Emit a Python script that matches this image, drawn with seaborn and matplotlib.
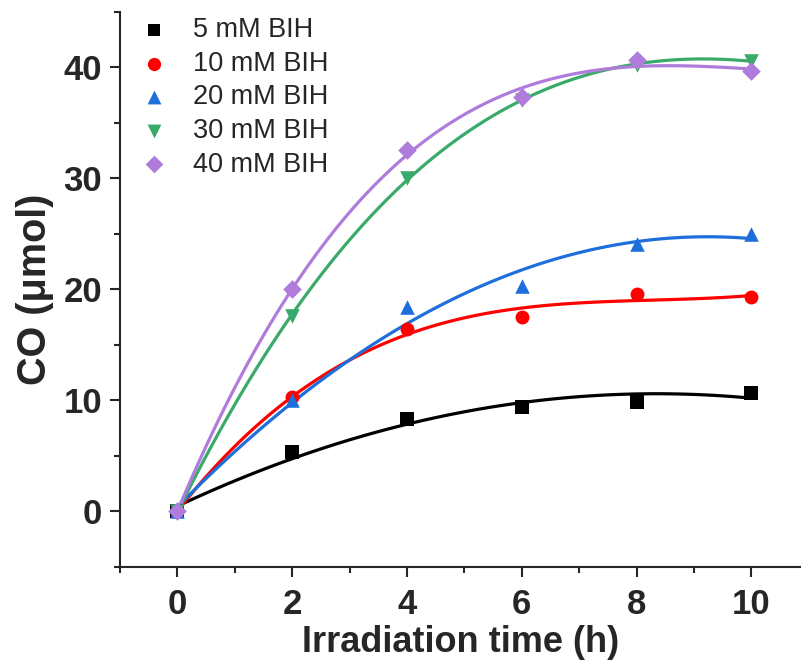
import matplotlib
matplotlib.use("Agg")
import matplotlib.pyplot as plt
from matplotlib.ticker import MultipleLocator
import seaborn as sns
import pandas as pd

# CO evolution vs irradiation time for different BIH concentrations
time_h = [0, 2, 4, 6, 8, 10]
co_5mM = [0.0, 5.4, 8.3, 9.4, 9.9, 10.7]
co_10mM = [0.0, 10.3, 16.4, 17.5, 19.6, 19.3]
co_20mM = [0.0, 10.0, 18.4, 20.3, 24.1, 25.0]
co_30mM = [0.0, 17.6, 30.0, 37.1, 40.2, 40.6]
co_40mM = [0.0, 20.0, 32.6, 37.3, 40.7, 39.7]

labels = ["5 mM BIH", "10 mM BIH", "20 mM BIH", "30 mM BIH", "40 mM BIH"]
series = [co_5mM, co_10mM, co_20mM, co_30mM, co_40mM]
fit_order = [2, 3, 2, 3, 3]
colors = ["#000000", "#ff0000", "#1e6fdb", "#3aaa6a", "#b07cdc"]
markers = ["s", "o", "^", "v", "D"]
sizes = [90, 100, 110, 110, 90]

sns.set_style("ticks")
plt.rcParams["font.family"] = ["Liberation Sans", "DejaVu Sans"]

fig = plt.figure(figsize=(8.01, 6.65), dpi=100)
ax = fig.add_axes([0.1498, 0.1474, 0.850, 0.8346])

for lab, vals, k, c, m, s in zip(labels, series, fit_order, colors, markers, sizes):
    df = pd.DataFrame({"t": time_h, "co": vals})
    sns.regplot(data=df, x="t", y="co", order=k, ci=None, ax=ax, label=lab,
                color=c, marker=m, truncate=True,
                scatter_kws={"s": s, "alpha": 1, "linewidths": 0, "zorder": 3},
                line_kws={"lw": 2.3, "zorder": 2})

ax.set_xlim(-1, 10.86)
ax.set_ylim(-5, 45)
ax.xaxis.set_major_locator(MultipleLocator(2))
ax.xaxis.set_minor_locator(MultipleLocator(1))
ax.yaxis.set_major_locator(MultipleLocator(10))
ax.yaxis.set_minor_locator(MultipleLocator(5))
ax.tick_params(which="major", direction="out", length=7, width=1.5, labelsize=25, pad=6)
ax.tick_params(axis="x", which="major", pad=8)
ax.tick_params(which="minor", direction="out", length=4, width=1.5)
for lbl in ax.get_xticklabels() + ax.get_yticklabels():
    lbl.set_fontweight("bold")

for side in ["left", "bottom"]:
    ax.spines[side].set_linewidth(1.5)
ax.spines["top"].set_visible(False)
ax.spines["right"].set_visible(False)

ax.set_xlabel("Irradiation time (h)", fontsize=26, fontweight="bold", labelpad=3)
ax.set_ylabel("CO (\u03bcmol)", fontsize=28.5, fontweight="bold", labelpad=7)

ax.legend(loc="upper left", frameon=False, fontsize=19.5, handletextpad=0.45,
          labelspacing=0.28, borderaxespad=0.0, bbox_to_anchor=(-0.006, 1.01),
          markerscale=0.95)

fig.savefig("out.png", dpi=100)
